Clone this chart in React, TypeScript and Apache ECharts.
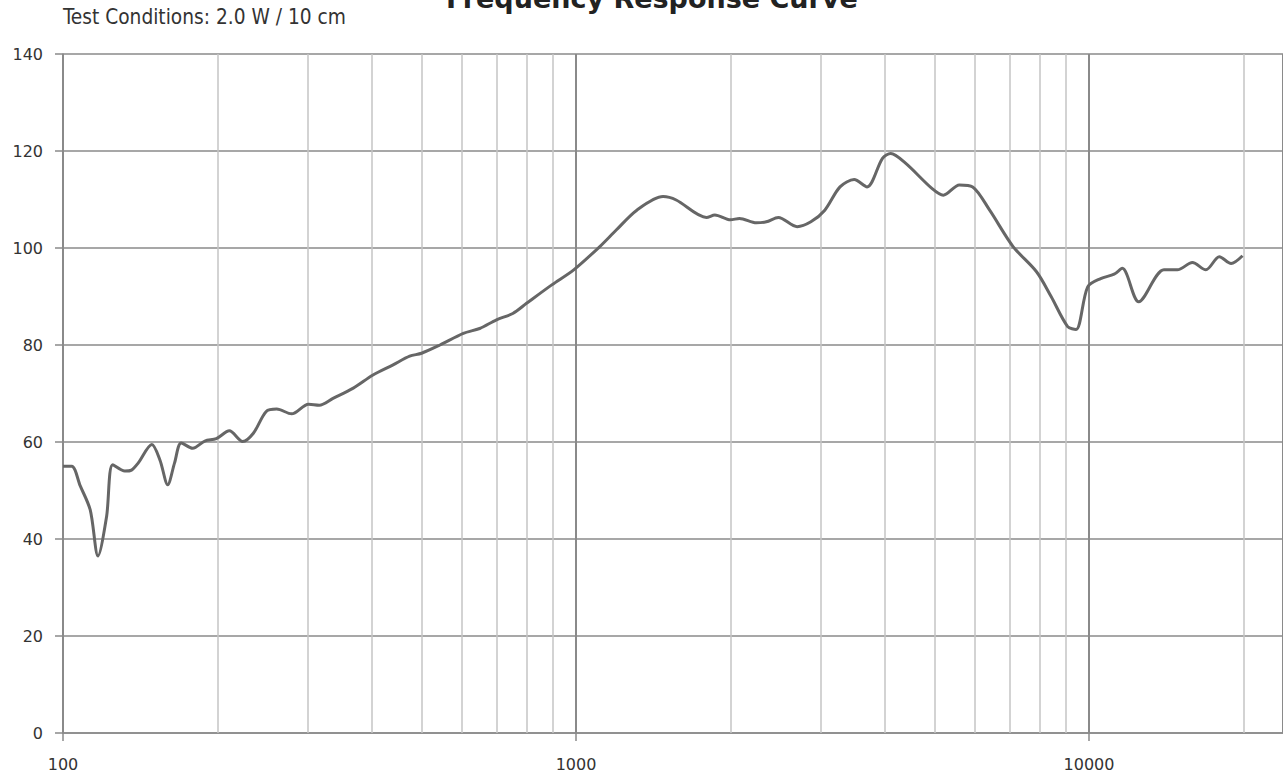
import React, { useEffect, useRef } from "react";
import * as echarts from "echarts";

const titleText = "Frequency Response Curve";
const subtitleText = "Test Conditions: 2.0 W / 10 cm";

const freqs = [
  100, 104, 108, 113, 117, 121.6, 125, 132, 136, 140, 149, 154.5, 160, 165, 170, 179, 189, 199, 211, 224,
  235, 249, 261, 279, 301, 316, 336, 368, 402, 440, 474, 500, 543, 603, 649, 700, 753, 801, 897, 990,
  1113, 1198, 1314, 1478, 1568, 1796, 1865, 2000, 2083, 2247, 2350, 2480, 2698, 2870, 3055, 3271, 3485,
  3693, 3958, 4107, 4389, 4940, 5201, 5589, 5933, 6403, 7112, 7902, 8437, 9087, 9435, 9943, 10540, 11196,
  11613, 12504, 14000, 14868, 15907, 16898, 17952, 18925, 19920,
];
const levels = [
  55, 55, 51, 46, 36.5, 44.6, 55.3, 54, 54.2, 55.6, 59.5, 56.3, 51.2, 55.7, 59.8, 58.7, 60.2, 60.7, 62.3, 60.1,
  61.8, 66.3, 66.8, 65.8, 67.8, 67.6, 69, 71.1, 73.8, 75.9, 77.7, 78.3, 80, 82.4, 83.4, 85.2, 86.5, 88.6, 92.4, 95.5,
  100.3, 103.7, 107.8, 110.6, 109.9, 106.3, 106.8, 105.8, 106.1, 105.2, 105.4, 106.3, 104.4, 105.4, 107.8, 112.6, 114.1,
  112.6, 118.5, 119.5, 117.5, 112.3, 110.9, 113.0, 112.6, 107.8, 100.3, 95.1, 90.0, 83.8, 83.2, 92.0, 93.7, 94.6,
  95.8, 88.9, 95.5, 95.5, 97.0, 95.5, 98.2, 96.8, 98.4,
];
const majorFreqs = [100, 1000, 10000];
const minorFreqs = [200, 300, 400, 500, 600, 700, 800, 900, 2000, 3000, 4000, 5000, 6000, 7000, 8000, 9000, 20000];
const xMin = 100;
const xMax = 23890;
const yMin = 0;
const yMax = 140;
const yStep = 20;

export default function App() {
  const ref = useRef<HTMLDivElement>(null);
  useEffect(() => {
    if (!ref.current) return;
    const chart = echarts.init(ref.current, null, { renderer: "svg" });
    const labelFont = "DejaVu Sans";
    chart.setOption({
      animation: false,
      backgroundColor: "#ffffff",
      grid: { left: 63, right: 0, top: 54, bottom: 41, containLabel: false },
      graphic: [
        {
          type: "text",
          left: 446,
          top: -15,
          style: { text: titleText, font: "bold 27px 'DejaVu Sans'", fill: "#222" },
        },
        {
          type: "text",
          left: 63,
          top: 6,
          style: { text: subtitleText, font: "20.7px 'DejaVu Sans Condensed'", fill: "#333" },
        },
      ],
      xAxis: {
        type: "log",
        logBase: 10,
        min: xMin,
        max: xMax,
        axisLine: { show: true, lineStyle: { color: "#8a8a8a", width: 1.5 } },
        axisTick: { show: true, length: 8, lineStyle: { color: "#8a8a8a", width: 1.5 } },
        axisLabel: {
          show: true,
          margin: 23,
          fontFamily: labelFont,
          fontSize: 16,
          color: "#333",
          showMaxLabel: false,
          formatter: (v: number) => (majorFreqs.indexOf(Math.round(v)) >= 0 ? String(Math.round(v)) : ""),
        },
        splitLine: { show: true, lineStyle: { color: "#8a8a8a", width: 2 } },
        minorTick: { show: false },
      },
      yAxis: {
        type: "value",
        min: yMin,
        max: yMax,
        interval: yStep,
        axisLine: { show: true, lineStyle: { color: "#8a8a8a", width: 1.5 } },
        axisTick: { show: true, length: 8, lineStyle: { color: "#8a8a8a", width: 1.5 } },
        axisLabel: { margin: 20, fontFamily: labelFont, fontSize: 16, color: "#333" },
        splitLine: { show: true, lineStyle: { color: "#8a8a8a", width: 1.5 } },
      },
      series: [
        {
          type: "line",
          data: freqs.map((f, i) => [f, levels[i]]),
          smooth: 0.3,
          showSymbol: false,
          lineStyle: { color: "#666666", width: 3 },
          z: 5,
          markLine: {
            silent: true,
            symbol: ["none", "none"],
            label: { show: false },
            lineStyle: { color: "#c4c4c4", width: 1.5, type: "solid" },
            data: minorFreqs.map((f) => ({ xAxis: f })),
            z: 1,
          },
        },
      ],
    });
    return () => chart.dispose();
  }, []);
  return (
    <div
      ref={ref}
      style={{ position: "fixed", left: 0, top: 0, width: 1283, height: 774, background: "#fff" }}
    />
  );
}
